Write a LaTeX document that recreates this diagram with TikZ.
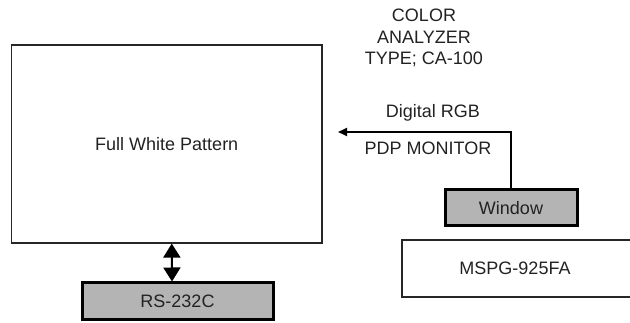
\documentclass[tikz,border=0pt]{standalone}
\usepackage{fontspec}
\setmainfont{Liberation Sans}
\usepackage{xcolor}
\usepackage{tikz}
\usetikzlibrary{arrows.meta}
\definecolor{txtgray}{HTML}{222222}
\definecolor{boxgray}{HTML}{B4B4B4}
\tikzstyle{plainbox} = [draw=black!85, line width=1.2pt, rectangle, inner sep=0pt, text=txtgray]
\tikzstyle{graybox} = [draw=black, line width=3pt, rectangle, inner sep=0pt, fill=boxgray, text=txtgray]
\tikzstyle{lbl} = [text=txtgray, inner sep=0pt]

\begin{document}
\begin{tikzpicture}[x=1pt, y=-1pt, font=\fontsize{18}{21.5}\selectfont]
    \useasboundingbox (0,0) rectangle (630,323);
    % screen of the monitor
    \node [plainbox, minimum width=310.5pt, minimum height=198pt] (pattern) at (166.75,144) {Full White Pattern};
    \node [graybox, minimum width=191pt, minimum height=37pt] (rs) at (177.5,301.5) {RS-232C};
    % analyzer side
    \node [lbl, align=center] (analyzer) at (424,38) {COLOR\\ANALYZER\\TYPE; CA-100};
    \node [lbl] (rgb) at (433,113) {Digital RGB};
    \node [lbl] (pdp) at (428,148) {PDP MONITOR};
    \node [graybox, minimum width=132pt, minimum height=36pt] (window) at (511,208) {Window};
    \node [plainbox, minimum width=236pt, minimum height=57pt] (mspg) at (520,268.5) {};
    \node [lbl] (mspgtxt) at (515,268) {MSPG-925FA};
    \coordinate (rgbend) at (338,132);
    % connectors
    \draw [line width=2pt, -{Triangle[width=8pt,length=9pt]}] (window.north) |- (rgbend);
    \draw [line width=2pt, {Triangle[width=17pt,length=14pt]}-{Triangle[width=17pt,length=14pt]}]
        ([xshift=5pt]pattern.south) -- ([xshift=-5.5pt]rs.north);
\end{tikzpicture}
\end{document}
